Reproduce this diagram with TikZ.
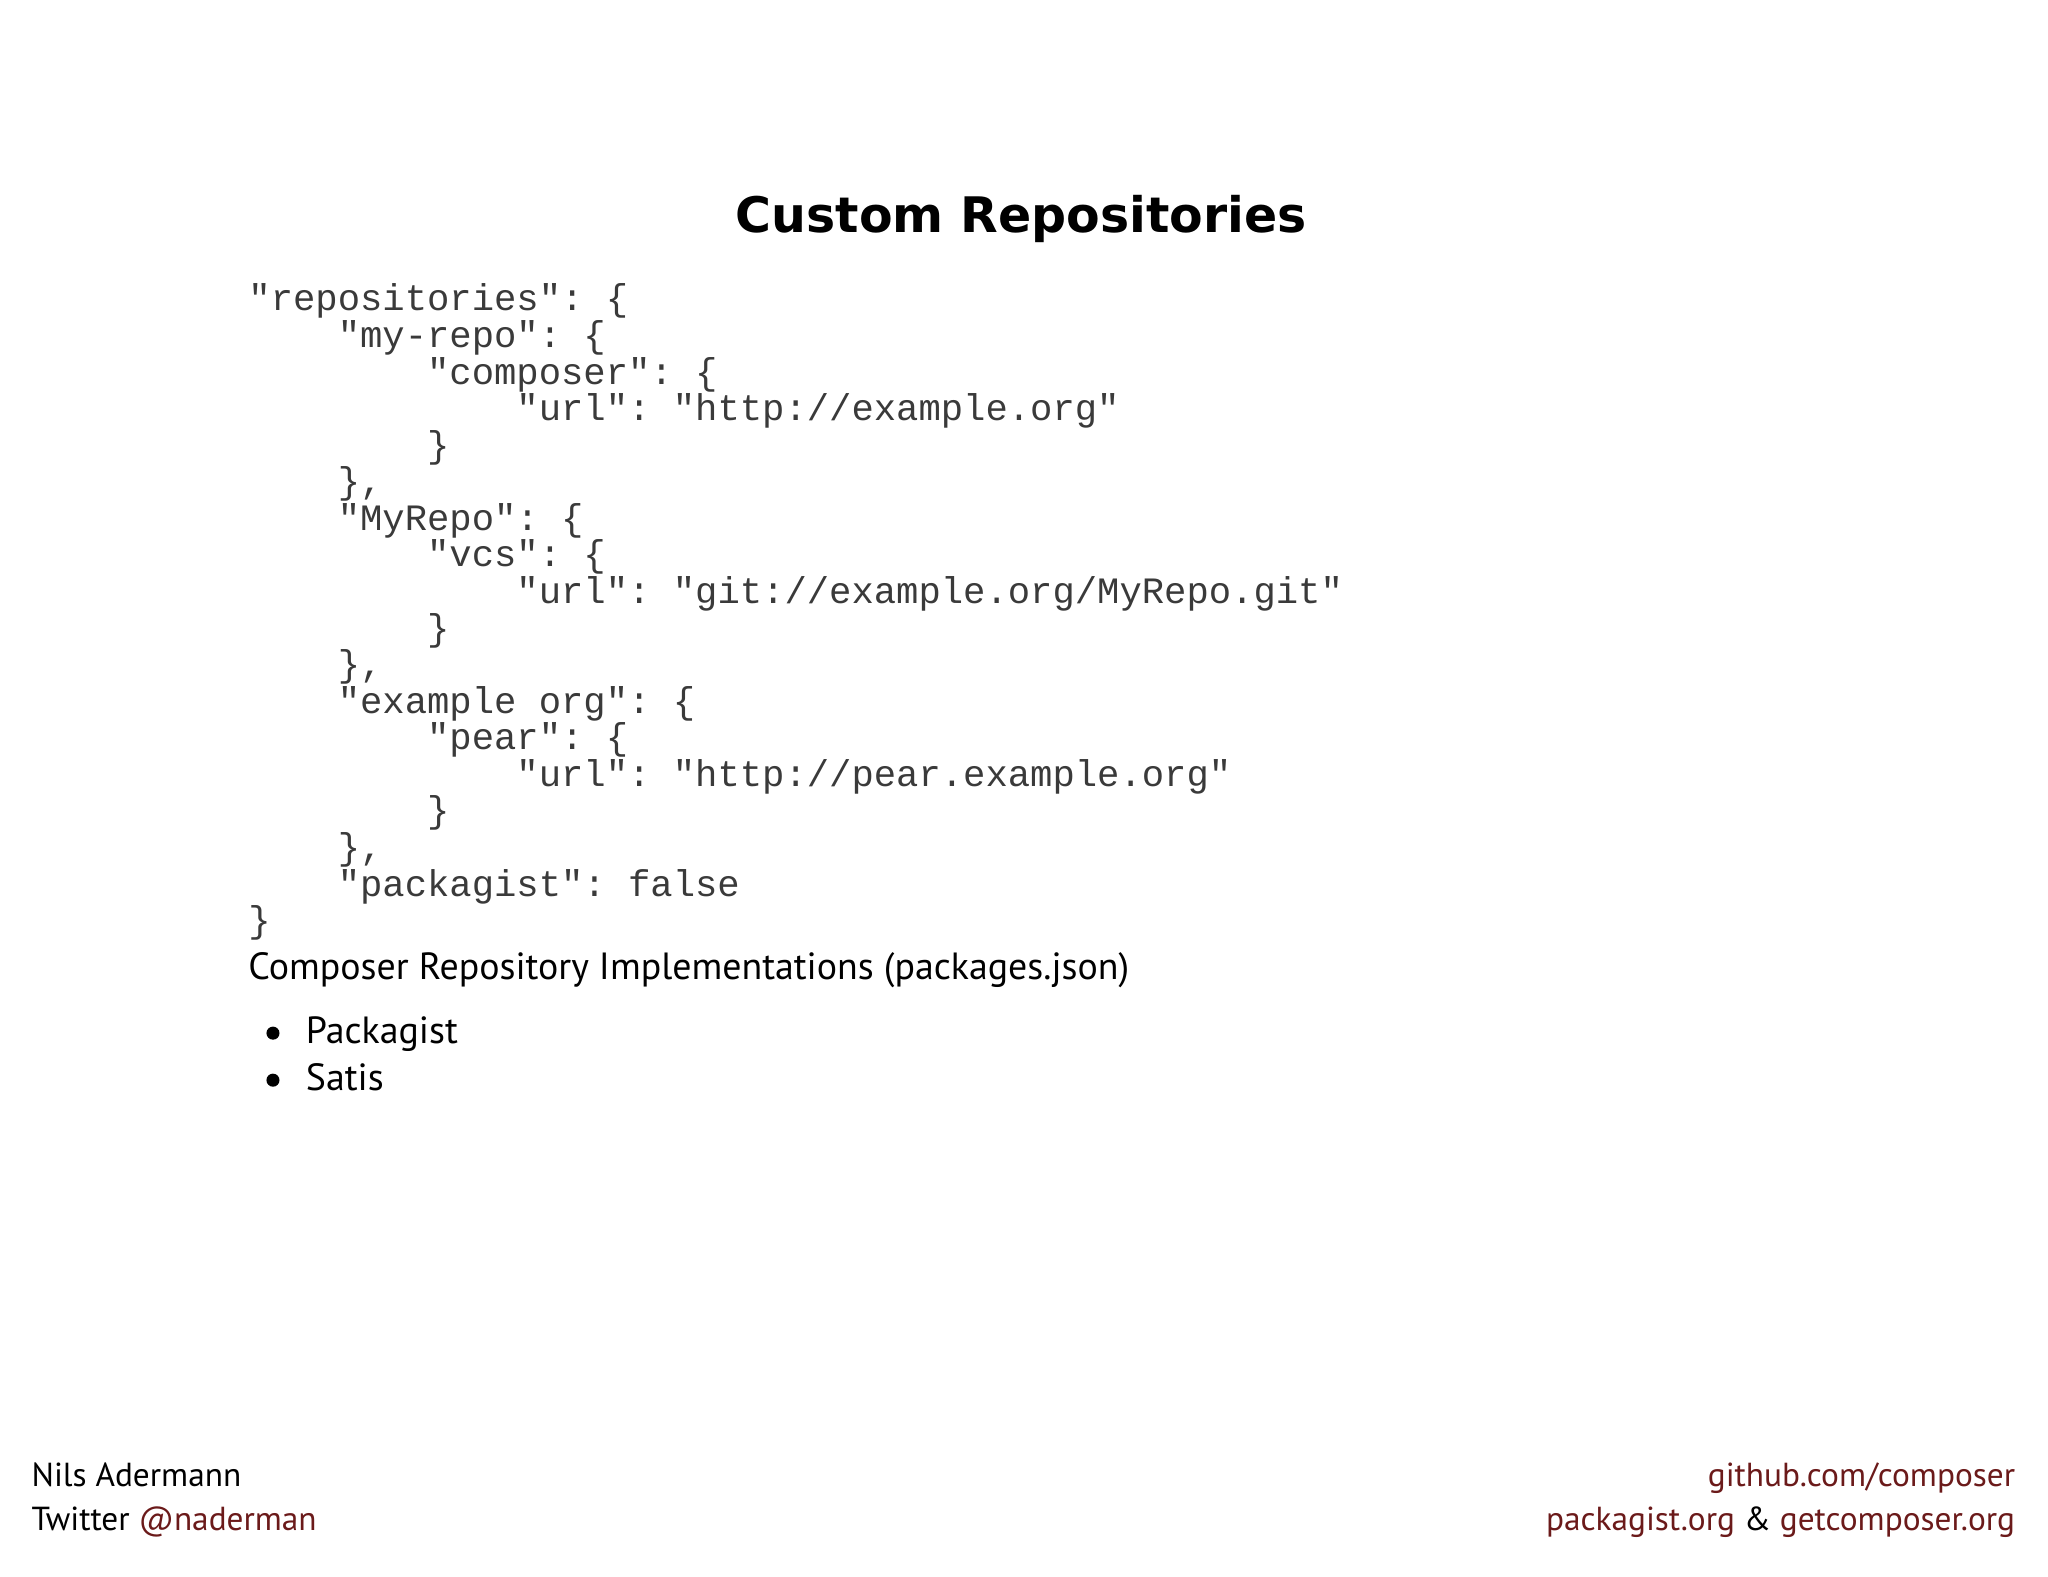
\documentclass[tikz,border=0pt]{standalone}
\usepackage{fontspec}
\setmainfont{PT Sans}
\setmonofont{Liberation Mono}
\newfontfamily\titlefont{DejaVu Sans}
\definecolor{codec}{HTML}{3A3A3A}
\definecolor{linkc}{HTML}{6B1A1A}
\begin{document}
\begin{tikzpicture}[x=1pt,y=1pt,
  code/.style={anchor=base west,inner sep=0,font=\fontsize{28.5}{28}\selectfont\ttfamily,text=codec},
  body/.style={anchor=base west,inner sep=0,font=\fontsize{29}{30}\selectfont},
  foot/.style={inner sep=0,font=\fontsize{25.5}{26}\selectfont}]
\useasboundingbox (0,0) rectangle (1568,-1207);
\node[inner sep=0,font=\fontsize{37.5}{40}\selectfont\titlefont\bfseries] (title) at (782,-168) {Custom Repositories};
\foreach \i/\t in {0/{"repositories": \{},
 1/{\ \ \ \ "my-repo": \{},
 2/{\ \ \ \ \ \ \ \ "composer": \{},
 3/{\ \ \ \ \ \ \ \ \ \ \ \ "url": "http://example.org"},
 4/{\ \ \ \ \ \ \ \ \}},
 5/{\ \ \ \ \},},
 6/{\ \ \ \ "MyRepo": \{},
 7/{\ \ \ \ \ \ \ \ "vcs": \{},
 8/{\ \ \ \ \ \ \ \ \ \ \ \ "url": "git://example.org/MyRepo.git"},
 9/{\ \ \ \ \ \ \ \ \}},
 10/{\ \ \ \ \},},
 11/{\ \ \ \ "example org": \{},
 12/{\ \ \ \ \ \ \ \ "pear": \{},
 13/{\ \ \ \ \ \ \ \ \ \ \ \ "url": "http://pear.example.org"},
 14/{\ \ \ \ \ \ \ \ \}},
 15/{\ \ \ \ \},},
 16/{\ \ \ \ "packagist": false},
 17/{\}}}
 \node[code] (c\i) at (190,{-238-28*\i}) {\t};
\node[body] (impl) at (190,-750) {Composer Repository Implementations (packages.json)};
\fill (209,-791) circle (5) coordinate (b1);
\fill (209,-827) circle (5) coordinate (b2);
\node[body] (p1) at (234,-799) {Packagist};
\node[body] (p2) at (234,-835) {Satis};
\node[foot,anchor=base west] (n1) at (24,-1138) {Nils Adermann};
\node[foot,anchor=base west] (n2) at (24,-1172) {Twitter \textcolor{linkc}{@naderman}};
\node[foot,anchor=base east,text=linkc] (r1) at (1543,-1138) {github.com/composer};
\node[foot,anchor=base east] (r2) at (1543,-1172) {\textcolor{linkc}{packagist.org} \& \textcolor{linkc}{getcomposer.org}};
\end{tikzpicture}
\end{document}
